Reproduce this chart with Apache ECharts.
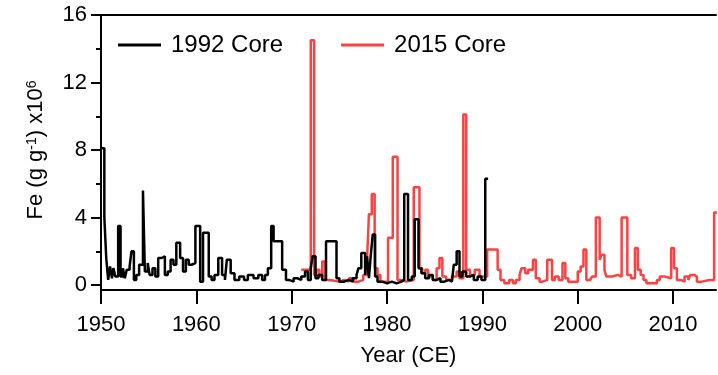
<!DOCTYPE html>
<html>
<head>
<meta charset="utf-8">
<script src="https://cdn.jsdelivr.net/npm/echarts@6/dist/echarts.min.js"></script>
<style>
  html, body { margin: 0; padding: 0; background: #fff; }
  #chart { width: 718px; height: 375px; }
</style>
</head>
<body>
<div id="chart"></div>
<script>
// 1992 core (start year of each step, Fe value x10^6)
var years1992 = [
  1950.0, 1950.35, 1950.55, 1950.75, 1950.95, 1951.15, 1951.3, 1951.5, 1951.8, 1952.05,
  1952.3, 1952.5, 1952.7, 1953.0, 1953.2, 1953.45, 1953.7, 1954.0, 1954.4, 1954.6,
  1954.9, 1955.1, 1955.4, 1955.7, 1956.0, 1956.35, 1956.7, 1957.0, 1957.3, 1957.6,
  1957.9, 1958.3, 1958.6, 1958.9, 1959.2, 1959.5, 1959.9, 1960.4, 1960.7, 1961.3,
  1961.6, 1961.9, 1962.3, 1962.7, 1963.0, 1963.2, 1963.6, 1964.0, 1964.5, 1965.0,
  1965.4, 1966.0, 1966.5, 1966.9, 1967.2, 1967.5, 1967.85, 1968.1, 1969.0, 1969.4,
  1969.7, 1970.2, 1970.6, 1971.0, 1971.4, 1971.7, 1972.0, 1972.2, 1972.5, 1972.8,
  1973.2, 1973.6, 1974.7, 1975.0, 1975.5, 1976.0, 1976.4, 1976.8, 1977.0, 1977.3,
  1977.7, 1977.9, 1978.1, 1978.3, 1978.5, 1978.75, 1979.0, 1979.5, 1980.0, 1980.5,
  1981.0, 1981.5, 1981.8, 1982.2, 1982.6, 1982.9, 1983.3, 1983.6, 1984.0, 1984.4,
  1984.8, 1985.2, 1985.6, 1986.0, 1986.5, 1986.8, 1987.0, 1987.3, 1987.6, 1987.9,
  1988.3, 1988.7, 1989.1, 1989.5, 1989.9, 1990.3, 1990.6
];
var fe1992 = [
  8.1, 4.0, 1.6, 0.3, 1.1, 0.4, 1.0, 0.5, 3.5, 0.5,
  1.0, 0.4, 0.9, 1.1, 2.0, 0.3, 0.6, 1.2, 5.6, 0.8,
  1.3, 0.6, 1.0, 0.5, 1.6, 1.7, 0.6, 0.8, 1.5, 1.2,
  2.5, 1.6, 0.8, 1.5, 1.2, 1.3, 3.5, 0.2, 3.1, 0.5,
  0.3, 0.6, 1.6, 0.6, 0.3, 1.5, 0.7, 0.3, 0.5, 0.3,
  0.6, 0.4, 0.6, 0.3, 0.6, 1.0, 3.5, 2.6, 0.9, 0.3,
  0.2, 0.4, 0.3, 0.5, 0.8, 0.3, 1.0, 1.7, 0.4, 0.6,
  0.3, 2.6, 0.4, 0.2, 0.3, 0.2, 0.4, 0.6, 1.0, 1.9,
  0.6, 1.7, 0.4, 1.8, 3.0, 0.5, 0.2, 0.1, 0.2, 0.1,
  0.2, 0.3, 5.4, 0.3, 0.5, 3.9, 1.0, 0.7, 0.4, 0.6,
  0.3, 0.4, 0.2, 0.3, 0.2, 0.3, 1.2, 2.0, 0.5, 0.8,
  0.5, 0.6, 0.3, 0.5, 0.3, 6.3, 6.3
];

// 2015 core
var years2015 = [
  1971.0, 1972.0, 1972.35, 1972.6, 1972.9, 1973.2, 1973.5, 1974.0, 1975.0, 1975.5,
  1976.0, 1976.5, 1977.0, 1977.5, 1977.9, 1978.1, 1978.4, 1978.7, 1979.0, 1979.3,
  1980.1, 1980.6, 1981.1, 1981.5, 1982.0, 1982.8, 1983.4, 1983.7, 1984.0, 1984.3,
  1984.8, 1985.2, 1985.5, 1985.8, 1986.2, 1986.8, 1987.3, 1987.6, 1988.0, 1988.3,
  1988.7, 1989.2, 1989.7, 1990.5, 1991.6, 1991.9, 1992.3, 1992.8, 1993.2, 1993.5,
  1993.9, 1994.1, 1994.5, 1994.8, 1995.3, 1995.6, 1996.0, 1996.3, 1996.8, 1997.3,
  1997.6, 1998.0, 1998.4, 1998.7, 1999.0, 1999.5, 2000.0, 2000.3, 2000.6, 2000.9,
  2001.3, 2001.5, 2001.9, 2002.3, 2002.5, 2002.8, 2003.0, 2003.6, 2004.2, 2004.6,
  2005.2, 2005.6, 2006.0, 2006.3, 2006.6, 2006.9, 2007.2, 2008.3, 2008.6, 2009.1,
  2009.8, 2010.1, 2010.4, 2010.8, 2011.2, 2011.6, 2011.8, 2012.2, 2012.5, 2013.0,
  2013.8, 2014.3, 2014.6
];
var fe2015 = [
  0.9, 14.5, 0.6, 0.9, 0.5, 1.4, 0.3, 0.2, 0.3, 0.2,
  0.4, 0.2, 0.3, 0.6, 1.5, 4.2, 5.4, 1.0, 0.6, 0.2,
  2.8, 7.6, 0.3, 0.2, 0.3, 5.8, 1.0, 0.7, 0.9, 0.5,
  0.3, 1.0, 1.6, 0.5, 0.3, 0.5, 0.8, 0.4, 10.1, 0.9,
  0.6, 0.9, 0.5, 2.1, 0.9, 0.3, 0.1, 0.3, 0.1, 0.3,
  0.6, 1.0, 0.7, 0.9, 1.5, 0.4, 0.2, 0.3, 1.5, 0.3,
  0.5, 0.3, 1.3, 0.4, 0.2, 0.2, 0.8, 1.1, 2.1, 0.3,
  0.2, 0.5, 4.0, 1.5, 1.8, 0.9, 0.5, 0.6, 0.5, 4.0,
  0.6, 0.4, 2.2, 0.9, 0.6, 0.3, 0.1, 0.3, 0.5, 0.4,
  2.2, 1.0, 0.3, 0.2, 0.5, 0.3, 0.6, 0.5, 0.2, 0.3,
  0.3, 4.3, 4.3
];

var FONT = 'Liberation Sans, Arial, sans-serif';

function pairs(xs, ys) {
  return xs.map(function (x, i) { return [x, ys[i]]; });
}

var myChart = echarts.init(document.getElementById('chart'));
var option = {
  animation: false,
  backgroundColor: '#fff',
  grid: {
    left: 101,
    right: 2,
    top: 15,
    bottom: 90
  },
  legend: {
    left: 113,
    top: 28,
    icon: 'rect',
    itemWidth: 43,
    itemHeight: 3,
    itemGap: 58,
    data: ['1992 Core', '2015 Core'],
    textStyle: {
      fontFamily: FONT,
      fontSize: 24,
      color: '#000',
      padding: [0, 0, 0, 5]
    }
  },
  xAxis: [
    {
      type: 'value',
      min: 1950,
      max: 2014.5,
      interval: 10,
      offset: 5,
      name: 'Year (CE)',
      nameLocation: 'middle',
      nameGap: 55,
      nameTextStyle: { fontFamily: FONT, fontSize: 22, color: '#000' },
      axisLine: { onZero: false, lineStyle: { color: '#000', width: 2 } },
      axisTick: { inside: false, length: 14, lineStyle: { color: '#000', width: 2 } },
      axisLabel: {
        margin: 24,
        fontFamily: FONT,
        fontSize: 22,
        color: '#000',
        formatter: function (v) { return String(v); }
      },
      splitLine: { show: false }
    },
    {
      type: 'value',
      position: 'top',
      min: 1950,
      max: 2014.5,
      axisLine: { show: true, onZero: false, lineStyle: { color: '#000', width: 2 } },
      axisTick: { show: false },
      axisLabel: { show: false },
      splitLine: { show: false }
    }
  ],
  yAxis: {
    type: 'value',
    min: 0,
    max: 16,
    interval: 4,
    name: '{a|Fe (g g}{s|-1}{a|) x10}{s|6}',
    nameLocation: 'middle',
    nameGap: 54,
    nameRotate: 90,
    nameTextStyle: {
      rich: {
        a: { fontFamily: FONT, fontSize: 22, color: '#000', verticalAlign: 'bottom' },
        s: { fontFamily: FONT, fontSize: 14, color: '#000', verticalAlign: 'top' }
      }
    },
    axisLine: {
      show: true,
      symbol: ['rect', 'none'],
      symbolSize: [2, 11],
      lineStyle: { color: '#000', width: 2 }
    },
    axisTick: { show: true, length: 10, lineStyle: { color: '#000', width: 2 } },
    minorTick: { show: true, splitNumber: 2, length: 5, lineStyle: { color: '#000', width: 2 } },
    axisLabel: { margin: 14, fontFamily: FONT, fontSize: 22, color: '#000' },
    splitLine: { show: false }
  },
  series: [
    {
      name: '2015 Core',
      type: 'line',
      step: 'end',
      showSymbol: false,
      data: pairs(years2015, fe2015),
      itemStyle: { color: '#ff4040' },
      lineStyle: { color: '#ff4040', width: 2.5 }
    },
    {
      name: '1992 Core',
      type: 'line',
      step: 'end',
      showSymbol: false,
      data: pairs(years1992, fe1992),
      itemStyle: { color: '#000' },
      lineStyle: { color: '#000', width: 2.5 }
    }
  ]
};
myChart.setOption(option);
</script>
</body>
</html>
